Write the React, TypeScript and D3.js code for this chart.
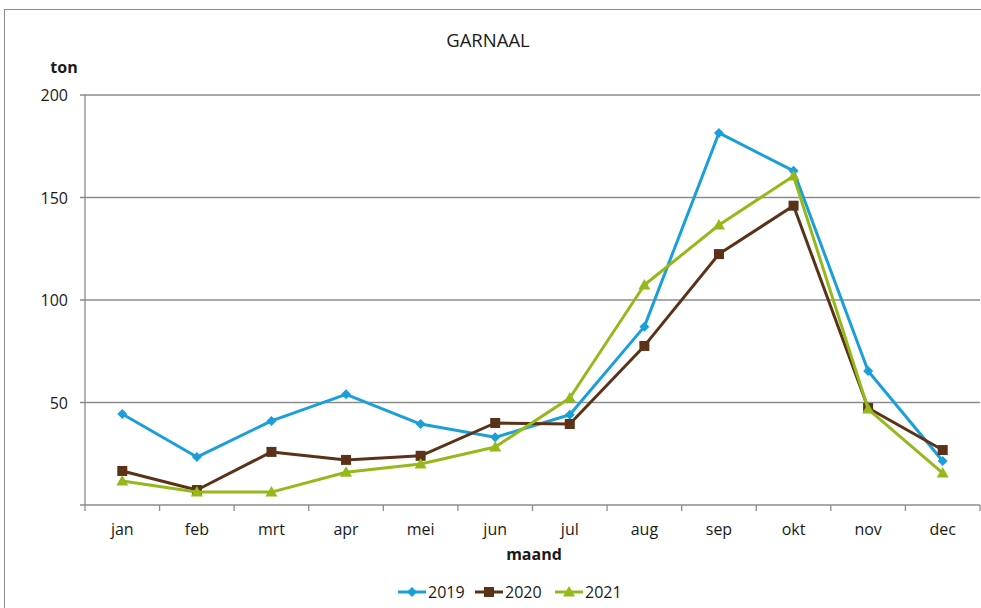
import React from "react";
import * as d3 from "d3";

const months = ["jan", "feb", "mrt", "apr", "mei", "jun", "jul", "aug", "sep", "okt", "nov", "dec"];
const v2019 = [44.4, 23.4, 41, 54, 39.5, 33, 44, 87, 181.5, 163, 65.4, 21.5];
const v2020 = [16.6, 7.3, 25.9, 22, 24, 40, 39.5, 77.6, 122.4, 146, 47.3, 26.8];
const v2021 = [11.7, 6.3, 6.3, 16, 20, 28.3, 52.2, 107.3, 136.6, 160.5, 46.8, 15.6];
const yTicks = [50, 100, 150, 200];
const seriesNames = ["2019", "2020", "2021"];

const W = 981, H = 608;
const left = 85, right = 980, top = 95, bottom = 505;
const FONT = "'Open Sans', 'Noto Sans', sans-serif";

export default function App() {
  const x = d3.scaleBand<string>().domain(months).range([left, right]);
  const y = d3.scaleLinear().domain([0, 200]).range([bottom, top]);
  const series = [
    { name: seriesNames[0], values: v2019, color: "#1a9fdb", shape: "diamond" },
    { name: seriesNames[1], values: v2020, color: "#5b3218", shape: "square" },
    { name: seriesNames[2], values: v2021, color: "#95b81a", shape: "triangle" },
  ];
  const line = d3.line<number>().x((_, i) => x(months[i])! + x.bandwidth() / 2).y((d) => y(d));
  const marker = (shape: string, cx: number, cy: number, color: string, key: any) => {
    if (shape === "diamond")
      return <path key={key} d={`M${cx},${cy - 5}L${cx + 5},${cy}L${cx},${cy + 5}L${cx - 5},${cy}Z`} fill={color} />;
    if (shape === "square")
      return <rect key={key} x={cx - 5} y={cy - 5} width={10} height={10} fill={color} />;
    return <path key={key} d={`M${cx},${cy - 6}L${cx + 6},${cy + 4.5}L${cx - 6},${cy + 4.5}Z`} fill={color} />;
  };
  const legendX = [398, 475, 555];
  return (
    <svg width={W} height={H} style={{ position: "absolute", left: 0, top: 0, fontFamily: FONT }}>
      <rect x={4.5} y={9.5} width={990} height={620} fill="white" stroke="#8c8c8c" strokeWidth={1} />
      <text x={488} y={47} textAnchor="middle" fontSize={18.5} fill="#1a1a1a">GARNAAL</text>
      <text x={64} y={73} textAnchor="middle" fontSize={16} fontWeight="bold" fill="#1a1a1a">ton</text>
      {yTicks.map((t) => (
        <g key={t}>
          <line x1={80} x2={right} y1={y(t)} y2={y(t)} stroke="#8c8c8c" strokeWidth={1.3} />
          <text x={68} y={y(t) + 6} textAnchor="end" fontSize={16} fill="#1a1a1a">{t}</text>
        </g>
      ))}
      <line x1={left} x2={left} y1={top} y2={bottom} stroke="#8c8c8c" strokeWidth={1.3} />
      <line x1={80} x2={right} y1={bottom} y2={bottom} stroke="#8c8c8c" strokeWidth={1.3} />
      {months.map((m, i) => (
        <line key={"t" + i} x1={x(m)!} x2={x(m)!} y1={bottom} y2={bottom + 6} stroke="#8c8c8c" strokeWidth={1.3} />
      ))}
      <line x1={right} x2={right} y1={bottom} y2={bottom + 6} stroke="#8c8c8c" strokeWidth={1.3} />
      {months.map((m) => (
        <text key={m} x={x(m)! + x.bandwidth() / 2} y={535} textAnchor="middle" fontSize={16} fill="#1a1a1a">{m}</text>
      ))}
      <text x={534} y={560} textAnchor="middle" fontSize={16} fontWeight="bold" fill="#1a1a1a">maand</text>
      {series.map((s) => (
        <g key={s.name}>
          <path d={line(s.values)!} fill="none" stroke={s.color} strokeWidth={3} strokeLinejoin="round" />
          {s.values.map((v, i) => marker(s.shape, x(months[i])! + x.bandwidth() / 2, y(v), s.color, i))}
        </g>
      ))}
      {series.map((s, i) => (
        <g key={"l" + s.name}>
          <line x1={legendX[i]} x2={legendX[i] + 28} y1={592} y2={592} stroke={s.color} strokeWidth={3} />
          {marker(s.shape, legendX[i] + 14, 592, s.color, "m")}
          <text x={legendX[i] + 30} y={598} fontSize={16} fill="#1a1a1a">{s.name}</text>
        </g>
      ))}
    </svg>
  );
}
